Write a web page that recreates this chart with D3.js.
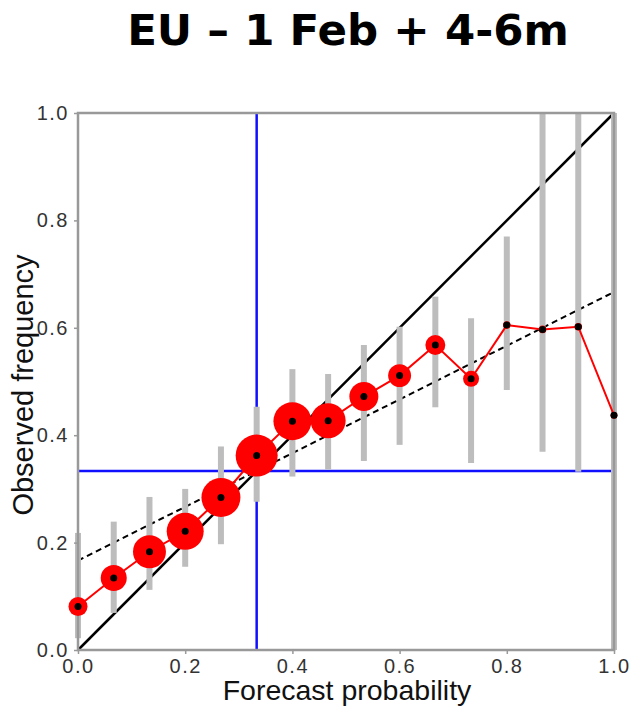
<!DOCTYPE html>
<html>
<head>
<meta charset="utf-8">
<script src="https://cdn.jsdelivr.net/npm/d3@7"></script>
<style>
  html, body { margin: 0; padding: 0; background: #fff; }
  svg { display: block; }
</style>
</head>
<body>
<svg id="chart" width="633" height="707"></svg>
<script>
// Reliability diagram: forecast probability bins vs observed frequency
const titleText = "EU \u2013 1 Feb + 4-6m";
const forecastProb = [0, 1/15, 2/15, 3/15, 4/15, 5/15, 6/15, 7/15, 8/15, 9/15, 10/15, 11/15, 12/15, 13/15, 14/15, 1];
const observedFreq = [0.081, 0.134, 0.183, 0.221, 0.284, 0.362, 0.426, 0.427, 0.472, 0.511, 0.568, 0.505, 0.605, 0.597, 0.602, 0.437];
const ciLow  = [0.022, 0.069, 0.112, 0.155, 0.197, 0.276, 0.323, 0.336, 0.352, 0.382, 0.452, 0.348, 0.484, 0.369, 0.332, 0.0];
const ciHigh = [0.218, 0.239, 0.285, 0.300, 0.379, 0.453, 0.523, 0.514, 0.568, 0.602, 0.658, 0.618, 0.770, 1.0, 1.0, 1.0];
// share of forecasts falling in each bin (drives marker area)
const binShare = [0.031, 0.058, 0.093, 0.117, 0.130, 0.151, 0.123, 0.105, 0.072, 0.045, 0.034, 0.022, 0.005, 0.005, 0.005, 0.004];
const climatology = 1/3;
const tickValues = [0, 0.2, 0.4, 0.6, 0.8, 1.0];

const svg = d3.select("#chart");
const x = d3.scaleLinear().domain([0, 1]).range([78, 614]);
const y = d3.scaleLinear().domain([0, 1]).range([650, 113]);
const r = d3.scaleSqrt().domain([0, d3.max(binShare)]).range([0, 21]);

const data = forecastProb.map((p, i) => ({
  p, o: observedFreq[i], lo: ciLow[i], hi: ciHigh[i], share: binShare[i]
}));

// title
svg.append("text")
  .attr("x", 348).attr("y", 45)
  .attr("text-anchor", "middle")
  .attr("font-family", "DejaVu Sans, Verdana, sans-serif")
  .attr("font-weight", "bold")
  .attr("font-size", 43.5)
  .attr("fill", "#000")
  .text(titleText);

// climatology reference lines
svg.append("line")
  .attr("x1", x(climatology)).attr("x2", x(climatology))
  .attr("y1", y(0)).attr("y2", y(1))
  .attr("stroke", "#1010ff").attr("stroke-width", 2.5);
svg.append("line")
  .attr("x1", x(0)).attr("x2", x(1))
  .attr("y1", y(climatology)).attr("y2", y(climatology))
  .attr("stroke", "#1010ff").attr("stroke-width", 2.5);

// perfect reliability diagonal
svg.append("line")
  .attr("x1", x(0)).attr("y1", y(0))
  .attr("x2", x(1)).attr("y2", y(1))
  .attr("stroke", "#000").attr("stroke-width", 2.5);

// no-skill line, halfway between diagonal and climatology
svg.append("line")
  .attr("x1", x(0)).attr("y1", y((0 + climatology) / 2))
  .attr("x2", x(1)).attr("y2", y((1 + climatology) / 2))
  .attr("stroke", "#000").attr("stroke-width", 2)
  .attr("stroke-dasharray", "6,4");

// confidence bars
svg.append("g").selectAll("line")
  .data(data).join("line")
  .attr("x1", d => x(d.p)).attr("x2", d => x(d.p))
  .attr("y1", d => y(d.lo)).attr("y2", d => y(d.hi))
  .attr("stroke", "#bdbdbd").attr("stroke-width", 6);

// frame
svg.append("rect")
  .attr("x", x(0)).attr("y", y(1))
  .attr("width", x(1) - x(0)).attr("height", y(0) - y(1))
  .attr("fill", "none").attr("stroke", "#999").attr("stroke-width", 2.5);

// axes
const fontFamily = "Liberation Sans, Arial, Helvetica, sans-serif";
const yAxis = svg.append("g")
  .attr("transform", `translate(${x(0)},0)`)
  .call(d3.axisLeft(y).tickValues(tickValues).tickFormat(d3.format(".1f")).tickSize(4).tickPadding(5));
const xAxis = svg.append("g")
  .attr("transform", `translate(0,${y(0)})`)
  .call(d3.axisBottom(x).tickValues(tickValues).tickFormat(d3.format(".1f")).tickSize(4).tickPadding(5));
[yAxis, xAxis].forEach(g => {
  g.select(".domain").remove();
  g.selectAll(".tick line").attr("stroke", "#999").attr("stroke-width", 1.5);
  g.selectAll(".tick text")
    .attr("font-family", fontFamily)
    .attr("font-size", 20)
    .attr("letter-spacing", "1.5px")
    .attr("fill", "#333");
});

// reliability curve
svg.append("path")
  .datum(data)
  .attr("d", d3.line().x(d => x(d.p)).y(d => y(d.o)))
  .attr("fill", "none").attr("stroke", "#ff0000").attr("stroke-width", 2);

svg.append("g").selectAll("circle")
  .data(data).join("circle")
  .attr("cx", d => x(d.p)).attr("cy", d => y(d.o))
  .attr("r", d => r(d.share))
  .attr("fill", "#ff0000");

svg.append("g").selectAll("circle")
  .data(data).join("circle")
  .attr("cx", d => x(d.p)).attr("cy", d => y(d.o))
  .attr("r", 3.5)
  .attr("fill", "#000");

// axis titles
svg.append("text")
  .attr("x", 347).attr("y", 700)
  .attr("text-anchor", "middle")
  .attr("font-family", fontFamily)
  .attr("font-size", 28.5)
  .attr("fill", "#111")
  .text("Forecast probability");
svg.append("text")
  .attr("transform", "translate(33,385) rotate(-90)")
  .attr("text-anchor", "middle")
  .attr("font-family", fontFamily)
  .attr("font-size", 29)
  .attr("fill", "#111")
  .text("Observed frequency");
</script>
</body>
</html>
